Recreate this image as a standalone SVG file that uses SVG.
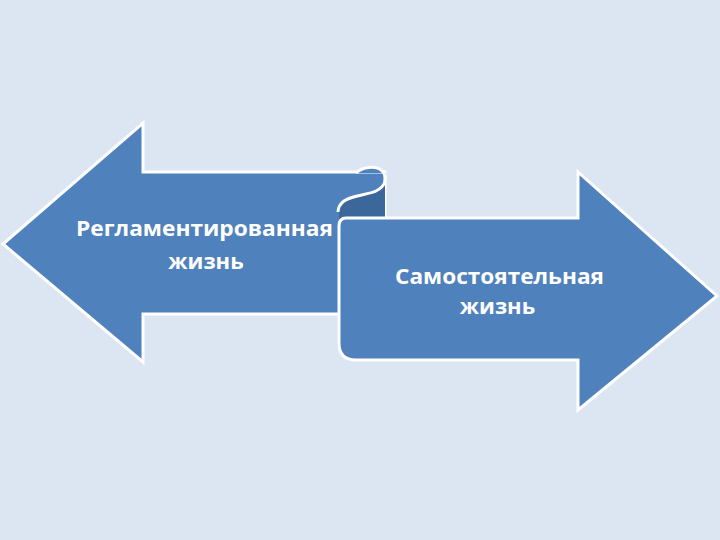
<svg xmlns="http://www.w3.org/2000/svg" width="720" height="540" viewBox="0 0 720 540">
  <style>
    .shape { fill: #4F81BD; stroke: #FFFFFF; stroke-width: 3; stroke-linejoin: miter; }
    .lbl { font-family: "Open Sans", "Liberation Sans", sans-serif; font-weight: bold; font-size: 22px; fill: #FFFFFF; text-anchor: middle; }
  </style>
  <rect width="720" height="540" fill="#DCE6F2"/>
  <g id="left-arrow">
    <path class="shape" d="M 143,172 L 385,172 L 385,314 L 143,314 L 143,362 L 3,244 L 143,123 Z"/>
  </g>
  <g id="scroll-roll">
    <path d="M 339,210 C 342,200 352,197 364,195 C 376,193 385,188 385,180 L 385,222 L 339,222 Z" fill="#3C679A"/>
    <path d="M 356,173 C 362,167 376,165 382,171 C 386,175 386,178 386,180 L 386,173 Z" fill="#4F81BD"/>
    <path d="M 356,173 C 362,167 376,165 382,171 C 388,177 386,186 376,191 C 368,195 352,195 344,201 C 340,204 338,208 338,212" fill="none" stroke="#FFFFFF" stroke-width="3"/>
  </g>
  <g id="right-arrow">
    <path class="shape" d="M 346,218 L 578,218 L 578,172 L 717,296 L 578,410 L 578,360 L 356,360 Q 339,360 339,343 L 339,226 Q 339,218 346,218 Z"/>
  </g>
  <g id="labels">
    <text class="lbl" x="204.5" y="236" textLength="257" lengthAdjust="spacingAndGlyphs">Регламентированная</text>
    <text class="lbl" x="206" y="269">жизнь</text>
    <text class="lbl" x="499.5" y="284" textLength="209" lengthAdjust="spacingAndGlyphs">Самостоятельная</text>
    <text class="lbl" x="497.5" y="314">жизнь</text>
  </g>
</svg>
